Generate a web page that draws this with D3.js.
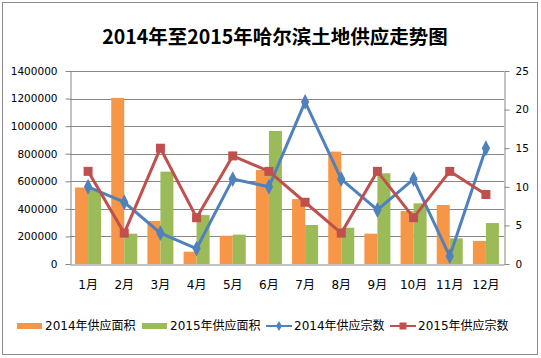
<!DOCTYPE html>
<html>
<head>
<meta charset="utf-8">
<script src="https://cdn.jsdelivr.net/npm/d3@7"></script>
<style>
  body { margin: 0; background: #fff; }
  svg { display: block; }
</style>
</head>
<body>
<svg width="541" height="358"></svg>
<script>
// data
var months = ["1月","2月","3月","4月","5月","6月","7月","8月","9月","10月","11月","12月"];
var area2014 = [555000, 1205000, 312000, 89000, 205000, 682000, 471000, 815000, 220000, 384000, 428000, 167000];
var area2015 = [540000, 220000, 670000, 355000, 213000, 965000, 283000, 263000, 658000, 440000, 186000, 297000];
var count2014 = [10, 8, 4, 2, 11, 10, 21, 11, 7, 11, 1, 15];
var count2015 = [12, 4, 15, 6, 14, 12, 8, 4, 12, 6, 12, 9];
var leftTicks = [0, 200000, 400000, 600000, 800000, 1000000, 1200000, 1400000];
var rightTicks = [0, 5, 10, 15, 20, 25];
var seriesNames = ["2014年供应面积", "2015年供应面积", "2014年供应宗数", "2015年供应宗数"];

var orange = "#f79646", green = "#9bbb59", blue = "#4f81bd", red = "#c0504d";
var fontNum = "'DejaVu Sans', 'Noto Sans CJK SC', sans-serif";

var svg = d3.select("svg");

// outer frame
svg.append("rect")
  .attr("x", 2.5).attr("y", 2.5)
  .attr("width", 535).attr("height", 352)
  .attr("fill", "#fff")
  .attr("stroke", "#8c8c8c");

svg.append("text")
  .attr("x", 275).attr("y", 44)
  .attr("text-anchor", "middle")
  .attr("font-family", "'Noto Sans CJK SC', sans-serif")
  .attr("font-weight", "bold")
  .attr("font-size", "19.5px")
  .attr("fill", "#000")
  .text("2014年至2015年哈尔滨土地供应走势图");

var plotLeft = 70, plotRight = 504, plotTop = 71, plotBottom = 264;

var x0 = d3.scaleBand().domain(months).range([plotLeft, plotRight]).padding(0);
var x1 = d3.scaleBand().domain(["a", "b"]).range([0, x0.bandwidth()]).paddingInner(0).paddingOuter(0.39);
var yL = d3.scaleLinear().domain([0, 1400000]).range([plotBottom, plotTop]);
var yR = d3.scaleLinear().domain([0, 25]).range([plotBottom, plotTop]);

// gridlines
svg.append("g")
  .selectAll("line")
  .data(leftTicks.slice(1))
  .enter().append("line")
  .attr("x1", plotLeft).attr("x2", plotRight)
  .attr("y1", d => Math.round(yL(d)) + 0.5)
  .attr("y2", d => Math.round(yL(d)) + 0.5)
  .attr("stroke", "#868686")
  .attr("stroke-width", 1);

// left axis
var axL = svg.append("g")
  .attr("transform", "translate(" + (plotLeft + 0.5) + ",0)")
  .call(d3.axisLeft(yL).tickValues(leftTicks).tickFormat(d3.format("d")).tickSizeInner(5).tickSizeOuter(0).tickPadding(8));
axL.select(".domain").attr("stroke", "#868686");
axL.selectAll(".tick line").attr("stroke", "#868686");
axL.selectAll("text").attr("font-family", fontNum).attr("font-size", "10.5px").attr("fill", "#000");

// right axis
var axR = svg.append("g")
  .attr("transform", "translate(" + (plotRight + 0.5) + ",0)")
  .call(d3.axisRight(yR).tickValues(rightTicks).tickSizeInner(5).tickSizeOuter(0).tickPadding(6));
axR.select(".domain").attr("stroke", "#868686");
axR.selectAll(".tick line").attr("stroke", "#868686");
axR.selectAll("text").attr("font-family", fontNum).attr("font-size", "10.5px").attr("fill", "#000");

// bars
var bars = svg.append("g");
months.forEach(function(m, i) {
  bars.append("rect")
    .attr("x", x0(m) + x1("a"))
    .attr("y", yL(area2014[i]))
    .attr("width", x1.bandwidth())
    .attr("height", plotBottom - yL(area2014[i]))
    .attr("fill", orange);
  bars.append("rect")
    .attr("x", x0(m) + x1("b"))
    .attr("y", yL(area2015[i]))
    .attr("width", x1.bandwidth())
    .attr("height", plotBottom - yL(area2015[i]))
    .attr("fill", green);
});

// bottom axis
var axB = svg.append("g")
  .attr("transform", "translate(0," + (plotBottom + 0.5) + ")")
  .call(d3.axisBottom(x0).tickSize(0).tickPadding(16));
axB.select(".domain").attr("stroke", "#868686");
axB.selectAll("text").attr("font-family", fontNum).attr("font-size", "12px").attr("fill", "#000");

// lines
var cx = m => x0(m) + x0.bandwidth() / 2;
var countLine = d3.line().x((d, i) => cx(months[i])).y(d => yR(d));

svg.append("path")
  .datum(count2014)
  .attr("d", countLine)
  .attr("fill", "none")
  .attr("stroke", blue)
  .attr("stroke-width", 3)
  .attr("stroke-linejoin", "round");

svg.append("path")
  .datum(count2015)
  .attr("d", countLine)
  .attr("fill", "none")
  .attr("stroke", red)
  .attr("stroke-width", 3)
  .attr("stroke-linejoin", "round");

svg.append("g")
  .selectAll("path")
  .data(count2014)
  .enter().append("path")
  .attr("d", d3.symbol(d3.symbolDiamond, 60))
  .attr("transform", (d, i) => "translate(" + cx(months[i]) + "," + yR(d) + ") scale(1,1.1)")
  .attr("fill", blue);

svg.append("g")
  .selectAll("rect")
  .data(count2015)
  .enter().append("rect")
  .attr("x", (d, i) => cx(months[i]) - 4.5)
  .attr("y", d => yR(d) - 4.5)
  .attr("width", 9).attr("height", 9)
  .attr("fill", red);

// legend
var legY = 326;
var leg = svg.append("g");
var legX = [17, 142, 266, 390];
seriesNames.forEach(function(name, i) {
  var g = leg.append("g").attr("transform", "translate(" + legX[i] + "," + legY + ")");
  if (i < 2) {
    g.append("rect").attr("x", 0).attr("y", -3).attr("width", 25).attr("height", 6)
      .attr("fill", i === 0 ? orange : green);
  } else {
    var c = i === 2 ? blue : red;
    g.append("line").attr("x1", 0).attr("x2", 26).attr("y1", 0).attr("y2", 0)
      .attr("stroke", c).attr("stroke-width", 2);
    if (i === 2) {
      g.append("path").attr("d", d3.symbol(d3.symbolDiamond, 30))
        .attr("transform", "translate(13,0)").attr("fill", c);
    } else {
      g.append("rect").attr("x", 9.5).attr("y", -3.5).attr("width", 7).attr("height", 7).attr("fill", c);
    }
  }
  g.append("text")
    .attr("x", 28).attr("y", 0)
    .attr("dy", "0.36em")
    .attr("font-family", fontNum)
    .attr("font-size", "12px")
    .attr("fill", "#000")
    .text(name);
});
</script>
</body>
</html>
